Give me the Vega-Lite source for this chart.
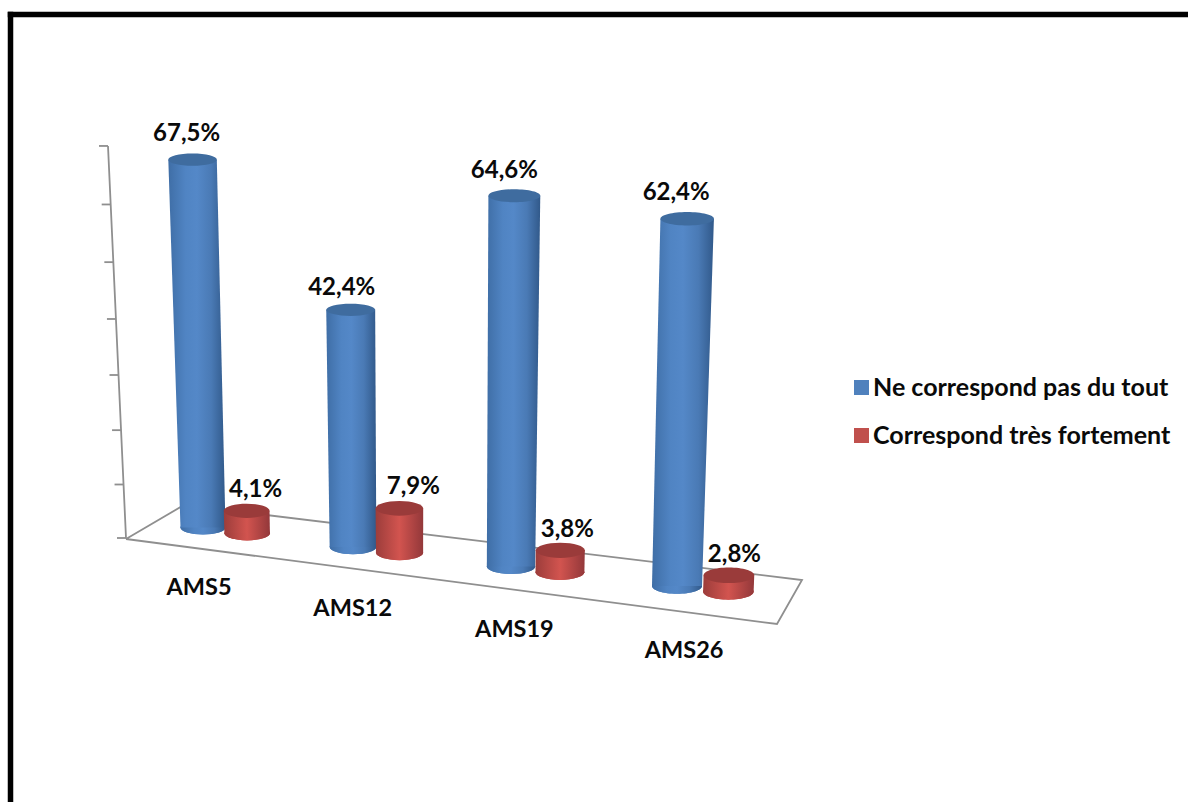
{
  "$schema": "https://vega.github.io/schema/vega-lite/v6.json",
  "width": 1178,
  "height": 788,
  "padding": {"left": 10, "top": 14, "right": 0, "bottom": 0},
  "autosize": {"type": "none"},
  "background": "white",
  "view": {"stroke": null},
  "config": {
    "text": {"font": "Lato", "fontWeight": "bold", "fontSize": 24, "color": "#0a0a0a"},
    "axis": {"grid": false, "ticks": false, "labels": false, "title": null, "domain": true, "domainColor": "#000000", "domainWidth": 5.5, "domainCap": "square"}
  },
  "datasets": {
    "cylinders": [
      {"cat": "AMS5", "serie": "Ne correspond pas du tout", "value": 67.5},
      {"cat": "AMS12", "serie": "Ne correspond pas du tout", "value": 42.4},
      {"cat": "AMS19", "serie": "Ne correspond pas du tout", "value": 64.6},
      {"cat": "AMS26", "serie": "Ne correspond pas du tout", "value": 62.4},
      {"cat": "AMS5", "serie": "Correspond très fortement", "value": 4.1},
      {"cat": "AMS12", "serie": "Correspond très fortement", "value": 7.9},
      {"cat": "AMS19", "serie": "Correspond très fortement", "value": 3.8},
      {"cat": "AMS26", "serie": "Correspond très fortement", "value": 2.8}
    ],
    "floor": [
      {"step": 1, "corner": "front-left"},
      {"step": 2, "corner": "front-right"},
      {"step": 3, "corner": "back-right"},
      {"step": 4, "corner": "back-left"},
      {"step": 5, "corner": "front-left"}
    ],
    "graduations": [
      {"tick": 0}, {"tick": 10}, {"tick": 20}, {"tick": 30},
      {"tick": 40}, {"tick": 50}, {"tick": 60}, {"tick": 70}
    ]
  },
  "data": {"name": "cylinders"},
  "transform": [
    {"calculate": "0", "as": "base"},
    {"fold": ["base", "value"], "as": ["end", "level"]},
    {"calculate": "indexof(['AMS5','AMS12','AMS19','AMS26'], datum.cat) + (datum.serie === 'Correspond très fortement' ? 0.3 : 0)", "as": "U"},
    {"calculate": "203 + 150 * datum.U + 4 * datum.U * (datum.U - 1)", "as": "xb"},
    {"calculate": "527.5 + 19.5 * datum.U", "as": "yb"},
    {"calculate": "datum.level * (5.45 + 0.145 * datum.U)", "as": "H"},
    {"calculate": "datum.xb + (-0.0284 + 0.0187 * datum.U) * datum.H", "as": "px"},
    {"calculate": "datum.yb - datum.H", "as": "py"},
    {"calculate": "45 + 1.67 * datum.U + 0.0095 * datum.H", "as": "w"},
    {"calculate": "datum.px - datum.w / 2", "as": "left"},
    {"calculate": "datum.px + datum.w / 2", "as": "right"},
    {"calculate": "datum.w * datum.w", "as": "sz"},
    {"calculate": "replace(format(datum.value, '.1f'), '.', ',') + '%'", "as": "label"}
  ],
  "encoding": {
    "x": {"field": "px", "type": "quantitative", "scale": {"domain": [10, 1188], "nice": false, "zero": false}, "axis": {"orient": "top", "title": null}},
    "y": {"field": "py", "type": "quantitative", "scale": {"domain": [802, 14], "nice": false, "zero": false}, "axis": {"orient": "left", "title": null}}
  },
  "layer": [
    {
      "data": {"name": "floor"},
      "transform": [
        {"calculate": "{'front-left': 126, 'front-right': 777, 'back-right': 802, 'back-left': 184}[datum.corner]", "as": "px"},
        {"calculate": "{'front-left': 539, 'front-right': 624, 'back-right': 580, 'back-left': 505}[datum.corner]", "as": "py"}
      ],
      "mark": {"type": "line", "color": "#8f8f8f", "strokeWidth": 1.8, "strokeJoin": "miter"},
      "encoding": {"order": {"field": "step"}}
    },
    {
      "data": {"name": "graduations"},
      "transform": [
        {"calculate": "538 - (5.308 * datum.tick + 0.00418 * datum.tick * datum.tick)", "as": "py"},
        {"calculate": "126 - (538 - datum.py) * 18 / 392", "as": "px"}
      ],
      "mark": {"type": "line", "color": "#8f8f8f", "strokeWidth": 1.8},
      "encoding": {"order": {"field": "tick"}}
    },
    {
      "data": {"name": "graduations"},
      "transform": [
        {"calculate": "538 - (5.308 * datum.tick + 0.00418 * datum.tick * datum.tick)", "as": "py"},
        {"calculate": "126 - (538 - datum.py) * 18 / 392", "as": "px"},
        {"calculate": "datum.px - 9", "as": "px2"}
      ],
      "mark": {"type": "rule", "color": "#8f8f8f", "strokeWidth": 1.8},
      "encoding": {"x2": {"field": "px2"}}
    },
    {
      "transform": [{"filter": "datum.end === 'base'"}],
      "mark": {"type": "point", "filled": true, "opacity": 1, "shape": "M-1,0C-1,-.171 -.552,-.31 0,-.31C.552,-.31 1,-.171 1,0C1,.171 .552,.31 0,.31C-.552,.31 -1,.171 -1,0Z"},
      "encoding": {
        "size": {"field": "sz", "type": "quantitative", "scale": null, "legend": null},
        "color": {
          "field": "serie",
          "type": "nominal",
          "scale": {"domain": ["Ne correspond pas du tout", "Correspond très fortement"], "range": ["#4f81bd", "#c0504d"]},
          "legend": {
            "title": null,
            "orient": "none",
            "legendX": 839,
            "legendY": 361,
            "symbolType": "square",
            "symbolSize": 225,
            "symbolOpacity": 1,
            "symbolStrokeWidth": 0,
            "labelFont": "Lato",
            "labelFontWeight": "bold",
            "labelFontSize": 25,
            "labelColor": "#0a0a0a",
            "labelLimit": 400,
            "labelOffset": -1,
            "rowPadding": 22
          }
        }
      }
    },
    {
      "transform": [{"filter": "datum.serie === 'Ne correspond pas du tout'"}, {"filter": "datum.end === 'base'"}],
      "mark": {"type": "point", "filled": true, "opacity": 1, "shape": "M-1,0C-1,-.171 -.552,-.31 0,-.31C.552,-.31 1,-.171 1,0C1,.171 .552,.31 0,.31C-.552,.31 -1,.171 -1,0Z",
        "fill": {"x1": 0, "x2": 1, "y1": 0, "y2": 0, "gradient": "linear", "stops": [{"offset": 0, "color": "#3f6ea6"}, {"offset": 0.3, "color": "#5084c3"}, {"offset": 0.5, "color": "#5488c8"}, {"offset": 0.75, "color": "#4a7ab5"}, {"offset": 1, "color": "#31598a"}]}},
      "encoding": {"size": {"field": "sz", "type": "quantitative", "scale": null, "legend": null}}
    },
    {
      "transform": [{"filter": "datum.serie === 'Ne correspond pas du tout'"}],
      "mark": {"type": "area", "orient": "horizontal", "opacity": 1,
        "color": {"x1": 0, "x2": 1, "y1": 0, "y2": 0, "gradient": "linear", "stops": [{"offset": 0, "color": "#3f6ea6"}, {"offset": 0.3, "color": "#5084c3"}, {"offset": 0.5, "color": "#5488c8"}, {"offset": 0.75, "color": "#4a7ab5"}, {"offset": 1, "color": "#31598a"}]}},
      "encoding": {
        "x": {"field": "left", "type": "quantitative", "axis": {"orient": "top", "title": null}},
        "x2": {"field": "right"},
        "y": {"field": "py", "type": "quantitative", "axis": {"orient": "left", "title": null}},
        "detail": {"field": "cat"}
      }
    },
    {
      "transform": [{"filter": "datum.serie === 'Ne correspond pas du tout'"}, {"filter": "datum.end === 'value'"}],
      "mark": {"type": "point", "filled": true, "opacity": 1, "color": "#3f6c9f", "shape": "M-1,0C-1,-.138 -.552,-.25 0,-.25C.552,-.25 1,-.138 1,0C1,.138 .552,.25 0,.25C-.552,.25 -1,.138 -1,0Z"},
      "encoding": {"size": {"field": "sz", "type": "quantitative", "scale": null, "legend": null}}
    },
    {
      "transform": [{"filter": "datum.serie === 'Correspond très fortement'"}, {"filter": "datum.end === 'base'"}],
      "mark": {"type": "point", "filled": true, "opacity": 1, "shape": "M-1,0C-1,-.171 -.552,-.31 0,-.31C.552,-.31 1,-.171 1,0C1,.171 .552,.31 0,.31C-.552,.31 -1,.171 -1,0Z",
        "fill": {"x1": 0, "x2": 1, "y1": 0, "y2": 0, "gradient": "linear", "stops": [{"offset": 0, "color": "#9c3d3b"}, {"offset": 0.5, "color": "#d2544f"}, {"offset": 1, "color": "#93383a"}]}},
      "encoding": {"size": {"field": "sz", "type": "quantitative", "scale": null, "legend": null}}
    },
    {
      "transform": [{"filter": "datum.serie === 'Correspond très fortement'"}],
      "mark": {"type": "area", "orient": "horizontal", "opacity": 1,
        "color": {"x1": 0, "x2": 1, "y1": 0, "y2": 0, "gradient": "linear", "stops": [{"offset": 0, "color": "#9c3d3b"}, {"offset": 0.5, "color": "#d2544f"}, {"offset": 1, "color": "#93383a"}]}},
      "encoding": {
        "x": {"field": "left", "type": "quantitative", "axis": {"orient": "top", "title": null}},
        "x2": {"field": "right"},
        "y": {"field": "py", "type": "quantitative", "axis": {"orient": "left", "title": null}},
        "detail": {"field": "cat"}
      }
    },
    {
      "transform": [{"filter": "datum.serie === 'Correspond très fortement'"}, {"filter": "datum.end === 'value'"}],
      "mark": {"type": "point", "filled": true, "opacity": 1, "color": "#9a3b3a", "shape": "M-1,0C-1,-.171 -.552,-.31 0,-.31C.552,-.31 1,-.171 1,0C1,.171 .552,.31 0,.31C-.552,.31 -1,.171 -1,0Z"},
      "encoding": {"size": {"field": "sz", "type": "quantitative", "scale": null, "legend": null}}
    },
    {
      "transform": [
        {"filter": "datum.end === 'value' && datum.serie === 'Ne correspond pas du tout'"},
        {"calculate": "datum.px + {'AMS5': -6, 'AMS12': -9, 'AMS19': -10, 'AMS26': -11}[datum.cat]", "as": "lx"},
        {"calculate": "datum.py + {'AMS5': -26, 'AMS12': -22, 'AMS19': -25, 'AMS26': -26}[datum.cat]", "as": "ly"}
      ],
      "mark": {"type": "text", "baseline": "middle", "align": "center"},
      "encoding": {
        "x": {"field": "lx", "type": "quantitative", "axis": {"orient": "top", "title": null}},
        "y": {"field": "ly", "type": "quantitative", "axis": {"orient": "left", "title": null}},
        "text": {"field": "label"}
      }
    },
    {
      "transform": [
        {"filter": "datum.end === 'value' && datum.serie === 'Correspond très fortement'"},
        {"calculate": "datum.px + {'AMS5': 9, 'AMS12': 14, 'AMS19': 7, 'AMS26': 5.5}[datum.cat]", "as": "lx"},
        {"calculate": "datum.py + {'AMS5': -21, 'AMS12': -21, 'AMS19': -20, 'AMS26': -20}[datum.cat]", "as": "ly"}
      ],
      "mark": {"type": "text", "baseline": "middle", "align": "center"},
      "encoding": {
        "x": {"field": "lx", "type": "quantitative", "axis": {"orient": "top", "title": null}},
        "y": {"field": "ly", "type": "quantitative", "axis": {"orient": "left", "title": null}},
        "text": {"field": "label"}
      }
    },
    {
      "transform": [
        {"filter": "datum.end === 'base' && datum.serie === 'Ne correspond pas du tout'"},
        {"calculate": "datum.xb - 4 + 3.7 * datum.U", "as": "lx"},
        {"calculate": "datum.yb + 60 + 1.7 * datum.U", "as": "ly"}
      ],
      "mark": {"type": "text", "baseline": "middle", "align": "center", "fontSize": 23.5},
      "encoding": {
        "x": {"field": "lx", "type": "quantitative", "axis": {"orient": "top", "title": null}},
        "y": {"field": "ly", "type": "quantitative", "axis": {"orient": "left", "title": null}},
        "text": {"field": "cat"}
      }
    }
  ]
}
